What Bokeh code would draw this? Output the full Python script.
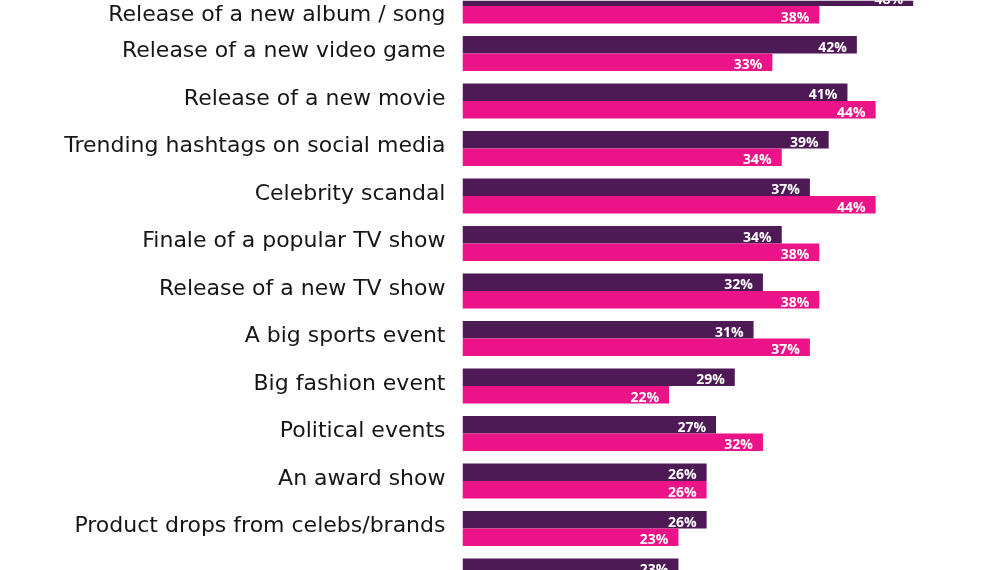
import numpy as np
from bokeh.plotting import figure
from bokeh.models import Range1d, FixedTicker, ColumnDataSource
from bokeh.core.properties import value
from bokeh.embed import file_html
from bokeh.resources import INLINE

categories = [
    "Release of a new album / song",
    "Release of a new video game",
    "Release of a new movie",
    "Trending hashtags on social media",
    "Celebrity scandal",
    "Finale of a popular TV show",
    "Release of a new TV show",
    "A big sports event",
    "Big fashion event",
    "Political events",
    "An award show",
    "Product drops from celebs/brands",
    "Streamed or virtual concert",
]
series_a = [48, 42, 41, 39, 37, 34, 32, 31, 29, 27, 26, 26, 23]
series_b = [38, 33, 44, 34, 44, 38, 38, 37, 22, 32, 26, 23]

PURPLE = "#4e1a56"
PINK = "#ec1389"
FONT = "DejaVu Sans"
VFONT = "Open Sans"

n = len(categories)
ya = np.arange(n) - 0.184
yb = np.arange(len(series_b)) + 0.184

src_a = ColumnDataSource(dict(y=ya, v=series_a, t=[f"{v}%" for v in series_a]))
src_b = ColumnDataSource(dict(y=yb, v=series_b, t=[f"{v}%" for v in series_b]))

p = figure(width=1000, height=570,
           x_range=Range1d(0, 57.3), y_range=Range1d(11.884, -0.116),
           output_backend="svg", toolbar_location=None, x_axis_type=None,
           min_border_left=462, min_border_right=0, min_border_top=0, min_border_bottom=0)
p.styles = {"position": "fixed", "top": "0px", "left": "0px"}
p.outline_line_color = None
p.grid.visible = False
p.background_fill_color = "white"

p.hbar(y="y", left=0, right="v", height=0.368, source=src_a, fill_color=PURPLE, line_color=None)
p.hbar(y="y", left=0, right="v", height=0.368, source=src_b, fill_color=PINK, line_color=None)

for s in (src_a, src_b):
    p.text(x="v", y="y", text="t", source=s, text_color="white", text_font=value(VFONT),
           text_font_style="bold", text_font_size="14px", text_align="right",
           text_baseline="middle", x_offset=-10, y_offset=1.5)

tick_pos = [round(i - 0.08, 2) for i in range(n)]
ax = p.yaxis[0]
ax.ticker = FixedTicker(ticks=tick_pos)
ax.major_label_overrides = {t: c for t, c in zip(tick_pos, categories)}
ax.axis_line_color = None
ax.major_tick_line_color = None
ax.minor_tick_line_color = None
ax.major_tick_out = 0
ax.major_tick_in = 0
ax.major_label_standoff = 17
ax.major_label_text_font = FONT
ax.major_label_text_font_size = "22px"
ax.major_label_text_color = "#161616"

open("out.html", "w").write(file_html(p, INLINE))
